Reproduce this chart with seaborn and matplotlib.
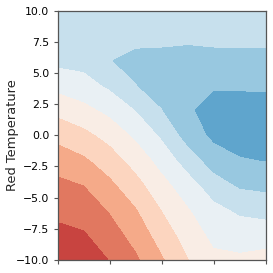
import numpy as np
import matplotlib
matplotlib.use("Agg")
import matplotlib.pyplot as plt
import seaborn as sns

# grid coordinates (x has no tick labels in the reference)
x_vals = [0.0, 0.5, 1.0, 1.5, 2.0, 2.5, 3.0, 3.5, 4.0]
y_vals = [-10, -8, -6, -4, -2, 0, 2, 4, 6, 8, 10]

# field values, one list per column of x, bottom to top
col_0 = [0.20, 0.72, 1.24, 1.75, 2.43, 3.29, 4.26, 5.30, 6.25, 6.45, 6.60]
col_1 = [0.33, 0.89, 1.44, 2.00, 2.83, 3.71, 4.68, 5.63, 6.30, 6.55, 6.65]
col_2 = [1.02, 1.53, 2.07, 2.76, 3.51, 4.33, 5.24, 6.16, 6.97, 6.80, 6.70]
col_3 = [1.81, 2.36, 2.92, 3.63, 4.38, 5.17, 6.00, 6.97, 7.25, 6.70, 6.65]
col_4 = [2.86, 3.43, 4.00, 4.65, 5.35, 6.13, 6.96, 7.40, 7.30, 6.70, 6.60]
col_5 = [3.95, 4.43, 4.90, 5.53, 6.43, 7.40, 7.85, 7.60, 7.30, 6.80, 6.60]
col_6 = [4.77, 5.23, 5.70, 6.50, 7.48, 8.20, 8.40, 7.86, 7.30, 6.70, 6.55]
col_7 = [4.80, 5.45, 6.15, 7.12, 7.92, 8.40, 8.50, 7.83, 7.30, 6.70, 6.55]
col_8 = [4.61, 5.44, 6.32, 7.25, 8.02, 8.40, 8.45, 7.81, 7.26, 6.70, 6.55]

levels = [0, 1, 2, 3, 4, 5, 6, 7, 8, 9]
y_ticks = [-10, -7.5, -5, -2.5, 0, 2.5, 5, 7.5, 10]
y_labels = ["−10.0", "−7.5", "−5.0", "−2.5", "0.0", "2.5", "5.0", "7.5", "10.0"]

sns.set_style("ticks")

Z = np.array([col_0, col_1, col_2, col_3, col_4, col_5, col_6, col_7, col_8]).T
X, Y = np.meshgrid(x_vals, y_vals)

fig = plt.figure(figsize=(2.73, 2.73), dpi=100)
ax = fig.add_axes([0.214, 0.048, 0.76, 0.913])
ax.contourf(X, Y, Z, levels=levels, cmap="RdBu", vmin=-1.63, vmax=11.62)

ax.set_xlim(0, 4)
ax.set_ylim(-10, 10)
ax.set_xticks([0, 1, 2, 3, 4])
ax.set_xticklabels([])
ax.set_yticks(y_ticks)
ax.set_yticklabels(y_labels)
ax.tick_params(labelsize=7.8, length=3, width=0.8, colors="#555555", labelcolor="black")
for s in ax.spines.values():
    s.set_color("#555555")
    s.set_linewidth(0.9)
ax.set_ylabel("Red Temperature", fontsize=9.4, labelpad=-2.5)

fig.savefig("out.png", dpi=100)
